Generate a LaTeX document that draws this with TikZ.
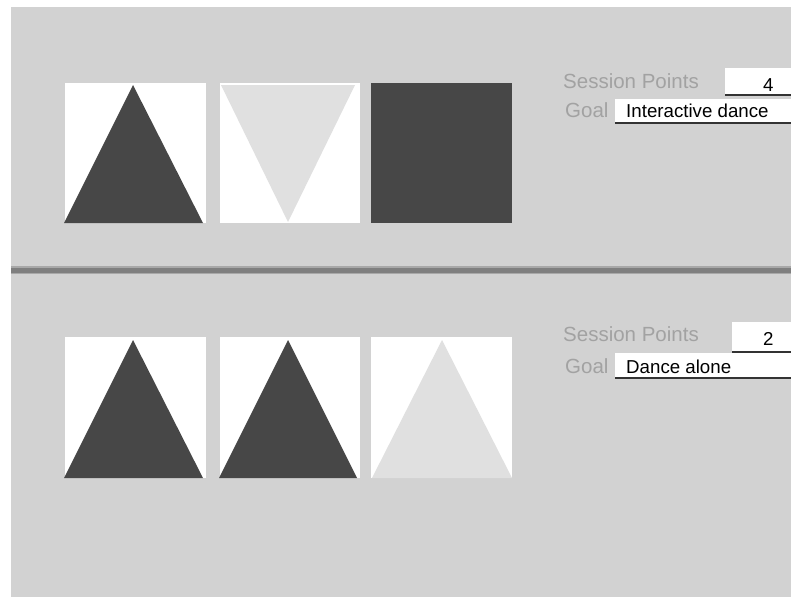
\documentclass[tikz,border=0pt]{standalone}
\usepackage{fontspec}
\setmainfont{Liberation Sans}
\definecolor{panel}{HTML}{D2D2D2}
\definecolor{darkfill}{HTML}{474747}
\definecolor{lightfill}{HTML}{E0E0E0}
\definecolor{labelgray}{HTML}{A2A2A2}
\definecolor{sepgray}{HTML}{7F7F7F}
\definecolor{sepedge}{HTML}{A8A8A8}
\tikzset{
  card/.style={fill=white,draw=none},
  darktri/.style={fill=darkfill,draw=none},
  lighttri/.style={fill=lightfill,draw=none},
  lbl/.style={anchor=base west,inner sep=0pt,text=labelgray,font=\fontsize{20.5}{20.5}\selectfont},
  val/.style={anchor=base west,inner sep=0pt,text=black,font=\fontsize{18.7}{18.7}\selectfont},
  field/.style={fill=white,draw=none},
  fieldline/.style={draw=black!80,line width=1.6pt}
}
\begin{document}
\begin{tikzpicture}[x=1pt,y=-1pt]
\useasboundingbox (0,0) rectangle (791,597);
\fill[white] (0,0) rectangle (791,597);
\fill[panel] (11,7) rectangle (791,597);
% separator
\fill[sepedge] (11,266) rectangle (791,274);
\fill[sepgray] (11,267.5) rectangle (791,272.5);

% ---- top panel ----
\fill[card] (65,83) rectangle (206,223);
\fill[darktri] (64,223) -- (133,85) -- (203,223) -- cycle;
\fill[card] (220,83) rectangle (360,223);
\fill[lighttri] (221,85) -- (355,85) -- (288,222) -- cycle;
\fill[darkfill] (371,83) rectangle (512,223);

\node[lbl] (sp1) at (563,88) {Session Points};
\fill[field] (725,68) rectangle (791,95);
\draw[fieldline] (725,95) -- (791,95);
\node[val] (v1) at (763,91) {4};
\node[lbl] (g1) at (565,117) {Goal};
\fill[field] (615,99) rectangle (791,123);
\draw[fieldline] (615,123) -- (791,123);
\node[val] (t1) at (626,117) {Interactive dance};

% ---- bottom panel ----
\fill[card] (65,337) rectangle (206,478);
\fill[darktri] (64,478) -- (133,340) -- (203,478) -- cycle;
\fill[card] (220,337) rectangle (360,478);
\fill[darktri] (219,478) -- (288,340) -- (357,478) -- cycle;
\fill[card] (371,337) rectangle (512,478);
\fill[lighttri] (372,478) -- (442,340) -- (512,478) -- cycle;

\node[lbl] (sp2) at (563,341) {Session Points};
\fill[field] (732,322) rectangle (791,352);
\draw[fieldline] (732,352) -- (791,352);
\node[val] (v2) at (763,345) {2};
\node[lbl] (g2) at (565,373) {Goal};
\fill[field] (615,353) rectangle (791,378);
\draw[fieldline] (615,378) -- (791,378);
\node[val] (t2) at (626,373) {Dance alone};
\end{tikzpicture}
\end{document}
